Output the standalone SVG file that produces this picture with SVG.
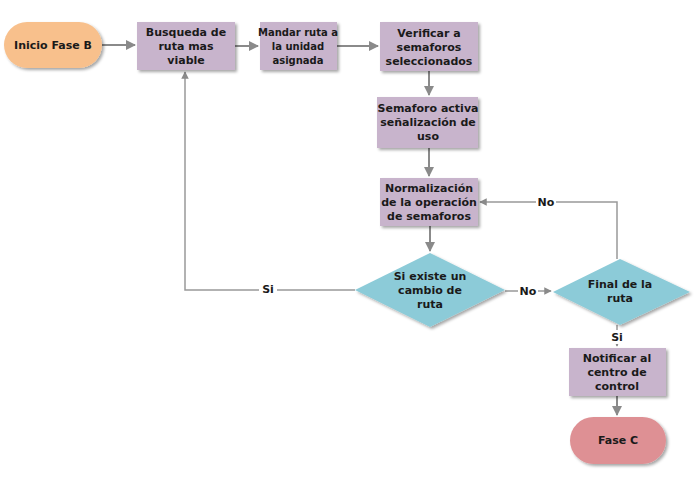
<svg xmlns="http://www.w3.org/2000/svg" width="695" height="494" viewBox="0 0 695 494">
<style>
text{font-family:"DejaVu Sans",sans-serif;font-size:11px;font-weight:bold;fill:#1a1a1a;text-anchor:middle}
.p{fill:#c8b4cc;filter:url(#sh)}
.d{fill:#8ccbd8;filter:url(#sh)}
.c{fill:none;stroke:#8a8a8a;stroke-width:2;marker-end:url(#a)}
.l{fill:none;stroke:#999;stroke-width:1.5;marker-end:url(#a)}
.lb{fill:#fff}
</style>
<defs>
<marker id="a" viewBox="0 0 10 10" refX="9" refY="5" markerWidth="5" markerHeight="5" orient="auto"><path d="M0,0L10,5L0,10z" fill="#8a8a8a"/></marker>
<filter id="sh" x="-10%" y="-10%" width="130%" height="130%"><feDropShadow dx="2" dy="2" stdDeviation="1.5" flood-color="#000" flood-opacity="0.35"/></filter>
</defs>
<rect width="695" height="494" fill="#fff"/>
<g id="connectors">
<path class="c" d="M102,45H135"/>
<path class="c" d="M235,46H258"/>
<path class="c" d="M337,46H378"/>
<path class="c" d="M429,71V95"/>
<path class="c" d="M429,148V176"/>
<path class="c" d="M430,226V251"/>
<path class="l" d="M355,290H185V72"/>
<path class="l" d="M505,291H551"/>
<path class="l" d="M617,259V202H480"/>
<path class="l" d="M617,325V346"/>
<path class="c" d="M617,396V415"/>
<rect class="lb" x="259" y="282" width="18" height="14"/><text x="268" y="293">Si</text>
<rect class="lb" x="518" y="284" width="20" height="14"/><text x="528" y="295">No</text>
<rect class="lb" x="536" y="195" width="20" height="14"/><text x="546" y="206">No</text>
<rect class="lb" x="608" y="330" width="18" height="14"/><text x="617" y="341">Si</text>
</g>
<g id="inicio"><rect x="4" y="22" width="98" height="46" rx="23" fill="#f8c08c" style="filter:url(#sh)"/><text x="53" y="49">Inicio Fase B</text></g>
<g id="busqueda"><rect class="p" x="137" y="22" width="98" height="48"/><text x="186" y="36">Busqueda de</text><text x="186" y="50">ruta mas</text><text x="186" y="64">viable</text></g>
<g id="mandar"><rect class="p" x="260" y="22" width="77" height="48"/><text x="298" y="36" style="font-size:10px">Mandar ruta a</text><text x="298" y="50" style="font-size:10px">la unidad</text><text x="298" y="64" style="font-size:10px">asignada</text></g>
<g id="verificar"><rect class="p" x="380" y="22" width="98" height="49"/><text x="429" y="37">Verificar a</text><text x="429" y="51">semaforos</text><text x="429" y="65">seleccionados</text></g>
<g id="semaforo"><rect class="p" x="377" y="97" width="101" height="51"/><text x="428" y="112">Semaforo activa</text><text x="428" y="126">señalización de</text><text x="428" y="140">uso</text></g>
<g id="normalizacion"><rect class="p" x="380" y="178" width="98" height="48"/><text x="429" y="192">Normalización</text><text x="429" y="206">de la operación</text><text x="429" y="220">de semaforos</text></g>
<g id="cambio"><polygon class="d" points="430,253 505,290 430,327 355,290"/><text x="430" y="280">Si existe un</text><text x="430" y="294">cambio de</text><text x="430" y="308">ruta</text></g>
<g id="final"><polygon class="d" points="620,259 690,292 620,325 553,292"/><text x="620" y="288">Final de la</text><text x="620" y="302">ruta</text></g>
<g id="notificar"><rect class="p" x="569" y="348" width="97" height="48"/><text x="617" y="362">Notificar al</text><text x="617" y="376">centro de</text><text x="617" y="390">control</text></g>
<g id="fasec"><rect x="570" y="417" width="96" height="47" rx="23.5" fill="#de9094" style="filter:url(#sh)"/><text x="618" y="444">Fase C</text></g>
</svg>
